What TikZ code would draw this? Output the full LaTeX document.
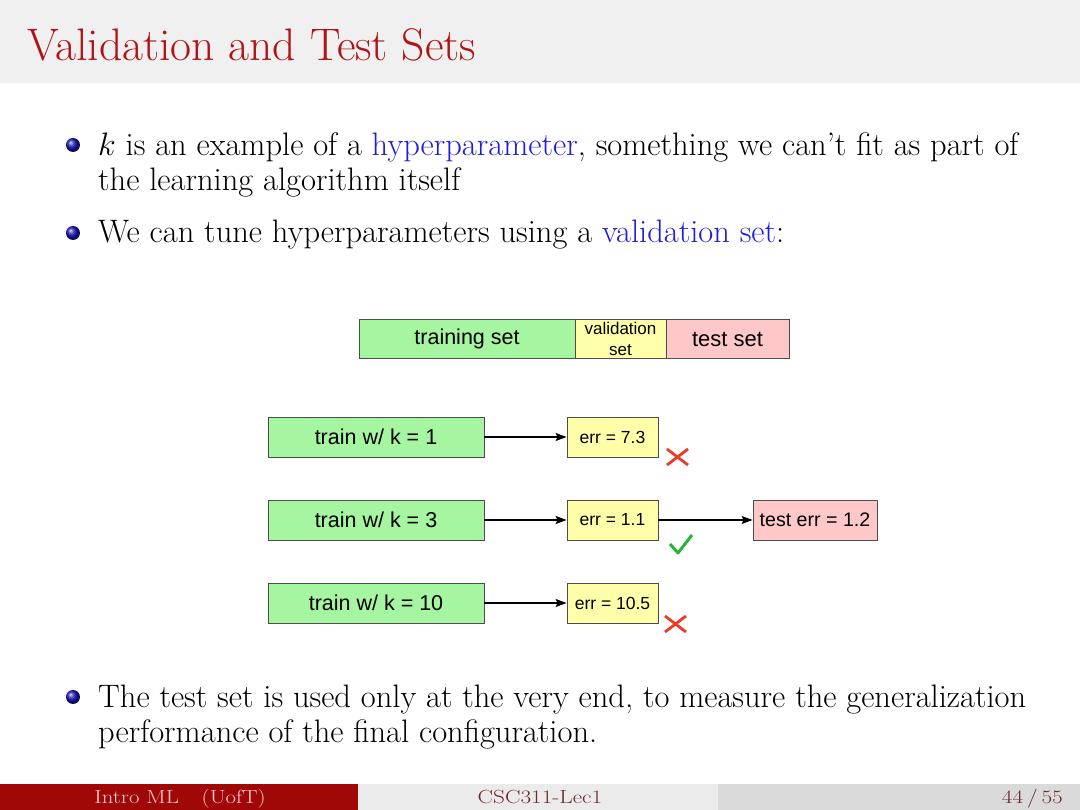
\RequirePackage{fix-cm}
\documentclass[tikz,border=0pt]{standalone}
\usepackage{fontspec}
\usepackage{graphicx}
\usetikzlibrary{arrows.meta}
\newfontfamily\helv{Liberation Sans}
\definecolor{titlered}{RGB}{176,20,24}
\definecolor{hdrgray}{RGB}{240,240,240}
\definecolor{footred}{RGB}{160,8,8}
\definecolor{footgray}{RGB}{235,235,235}
\definecolor{footgray2}{RGB}{218,218,218}
\definecolor{foottext}{RGB}{110,40,40}
\definecolor{linkblue}{RGB}{30,30,220}
\definecolor{boxgreen}{RGB}{166,245,160}
\definecolor{boxyellow}{RGB}{255,255,170}
\definecolor{boxpink}{RGB}{255,200,200}
\definecolor{crossred}{RGB}{235,60,40}
\definecolor{checkgreen}{RGB}{40,180,60}
\tikzset{
  body/.style={anchor=base west, inner sep=0pt, font=\fontsize{32.5}{36}\selectfont},
  bx/.style={draw=black!70, line width=0.8pt, minimum height=40pt, inner sep=0pt, font=\helv\fontsize{21.5}{24}\selectfont},
  errbx/.style={bx, fill=boxyellow, minimum width=91pt, font=\helv\fontsize{17.5}{20}\selectfont},
  trainbx/.style={bx, fill=boxgreen, minimum width=216pt},
  arr/.style={-{Stealth[length=11pt,width=8pt,inset=2pt]}, line width=1.3pt},
  bullet/.style={ball color=blue!70!black!90, draw=none},
  crossmark/.style={crossred, line width=2.8pt},
  foot/.style={font=\fontsize{19}{22}\selectfont, inner sep=0pt}
}
\begin{document}
\begin{tikzpicture}[x=1pt,y=-1pt]
\useasboundingbox (0,0) rectangle (1080,810);
\fill[white] (0,0) rectangle (1080,810);
% header
\fill[hdrgray] (0,0) rectangle (1080,83);
\node[anchor=base west, inner sep=0pt, text=titlered, font=\fontsize{45.6}{50}\selectfont] (title) at (27,61) {Validation and Test Sets};
% bullets
\shade[bullet] (73,145) circle (7);
\node[body] (l1) at (98,156) {$k$ is an example of a \textcolor{linkblue}{hyperparameter}, something we can't fit as part of};
\node[body] (l2) at (98,191) {the learning algorithm itself};
\shade[bullet] (73,233) circle (7);
\node[body] (l3) at (98,243) {We can tune hyperparameters using a \textcolor{linkblue}{validation set}:};
\shade[bullet] (73,697) circle (7);
\node[body] (l4) at (98,707) {The test set is used only at the very end, to measure the generalization};
\node[body] (l5) at (98,742) {performance of the final configuration.};
% split bar
\node[bx, fill=boxgreen, minimum width=216pt, minimum height=39pt] (tr) at (467,339) {training set};
\node[bx, fill=boxyellow, minimum width=91pt, minimum height=39pt, align=center, font=\helv\fontsize{17}{20.5}\selectfont] (va) at (620.5,339) {validation\\set};
\node[bx, fill=boxpink, minimum width=123pt, minimum height=39pt, font=\helv\fontsize{22}{24}\selectfont] (te) at (727.5,339) {test set};
% rows
\node[trainbx] (t1) at (376,437) {train w/ k = 1};
\node[errbx] (e1) at (612.5,437) {err = 7.3};
\node[trainbx] (t3) at (376,520) {train w/ k = 3};
\node[errbx] (e3) at (612.5,520) {err = 1.1};
\node[bx, fill=boxpink, minimum width=124pt, font=\helv\fontsize{19.6}{22}\selectfont] (tst) at (815,520) {test err = 1.2};
\node[trainbx] (t10) at (376,603) {train w/ k = 10};
\node[errbx] (e10) at (612.5,603) {err = 10.5};
\draw[arr] (t1) -- (e1);
\draw[arr] (t3) -- (e3);
\draw[arr] (e3) -- (tst);
\draw[arr] (t10) -- (e10);
% marks
\draw[crossmark] (667,449) -- (688,465) (688,449) -- (667,465);
\draw[crossmark] (665,616) -- (686,632) (686,616) -- (665,632);
\draw[checkgreen, line width=3pt, line join=round] (670,544) -- (678,553) -- (692,535);
% footer
\fill[footred] (0,784) rectangle (358,810);
\fill[footgray] (358,784) rectangle (718,810);
\fill[footgray2] (718,784) rectangle (1080,810);
\node[foot, text=white!80!red, anchor=base] (f1) at (180,803) {\scalebox{1.2}[1]{Intro ML\quad(UofT)}};
\node[foot, anchor=base, text=foottext] (f2) at (540,803) {\scalebox{1.22}[1]{CSC311-Lec1}};
\node[foot, anchor=base east, text=foottext] (f3) at (1063,803) {\scalebox{1.22}[1]{44\,/\,55}};
\end{tikzpicture}
\end{document}
